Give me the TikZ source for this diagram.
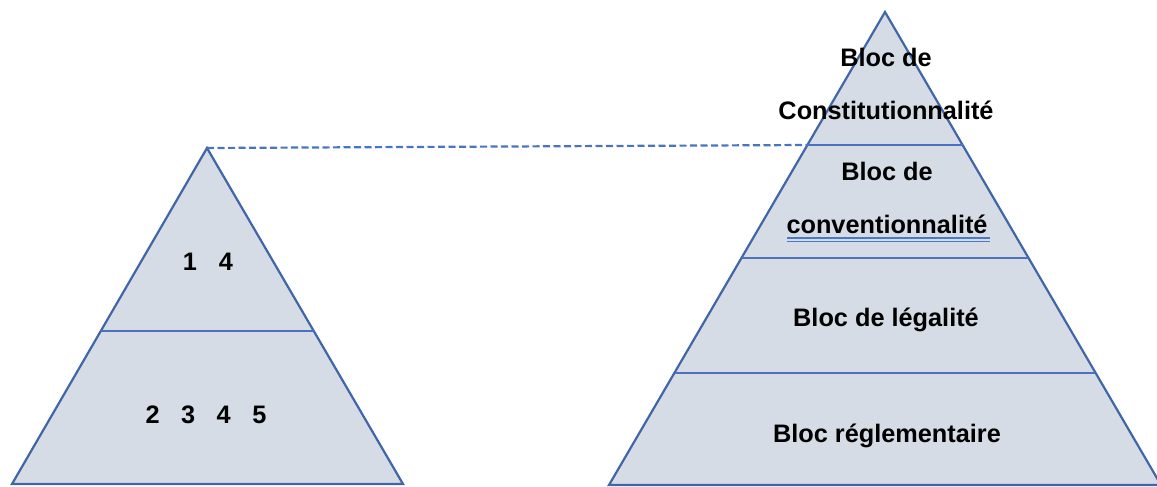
\documentclass[tikz,border=0pt]{standalone}
\usepackage{fontspec}
\setmainfont{Liberation Sans}
\definecolor{edge}{HTML}{4066A8}
\definecolor{divc}{HTML}{4A72BE}
\definecolor{pfill}{HTML}{D6DCE5}
\definecolor{dash}{HTML}{4A74C0}
\definecolor{uline}{HTML}{4A78CC}
\tikzset{
  pyr/.style={fill=pfill, draw=edge, line width=2.2pt, line join=miter},
  divider/.style={draw=divc, line width=2.2pt},
  lbl/.style={font=\fontsize{25.3}{53}\selectfont\bfseries, text=black, inner sep=0pt, align=center},
  link/.style={draw=dash, line width=2.2pt, dash pattern=on 7pt off 3.5pt},
  squig/.style={draw=uline, line width=1.3pt}
}
\begin{document}
\begin{tikzpicture}[x=1pt,y=-1pt]
\useasboundingbox (0,0) rectangle (1157,487);
% left pyramid
\coordinate (LA) at (207,148);
\coordinate (LBL) at (12,484);
\coordinate (LBR) at (403,484);
\coordinate (LDL) at (101,331);
\coordinate (LDR) at (314,331);
\path[pyr] (LA) -- (LBR) -- (LBL) -- cycle;
\draw[divider] (LDL) -- (LDR);
% right pyramid
\coordinate (RA) at (885,12);
\coordinate (RBL) at (609,485);
\coordinate (RBR) at (1161,485);
\coordinate (R1L) at (807,145);
\coordinate (R1R) at (963,145);
\coordinate (R2L) at (742,258);
\coordinate (R2R) at (1028,258);
\coordinate (R3L) at (675,373);
\coordinate (R3R) at (1095,373);
\path[pyr] (RA) -- (RBR) -- (RBL) -- cycle;
\draw[divider] (R1L) -- (R1R);
\draw[divider] (R2L) -- (R2R);
\draw[divider] (R3L) -- (R3R);
% dashed link
\draw[link] (LA) -- (R1L);
% labels
\node[lbl] (t1) at (886,84) {Bloc de\\Constitutionnalité};
\node[lbl] (t2) at (887,198) {Bloc de\\conventionnalité};
\node[lbl] (t3) at (886,320) {Bloc de légalité};
\node[lbl] (t4) at (887,436) {Bloc réglementaire};
\node[lbl] (n1) at (208,262) {1\hspace{22pt}4};
\node[lbl] (n2) at (206,415) {2\hspace{21.5pt}3\hspace{21.5pt}4\hspace{21.5pt}5};
% grammar-check double underline
\coordinate (U1a) at (787,238);
\coordinate (U1b) at (990,238);
\coordinate (U2a) at (787,241.5);
\coordinate (U2b) at (990,241.5);
\draw[squig] (U1a) -- (U1b);
\draw[squig] (U2a) -- (U2b);
\end{tikzpicture}
\end{document}
